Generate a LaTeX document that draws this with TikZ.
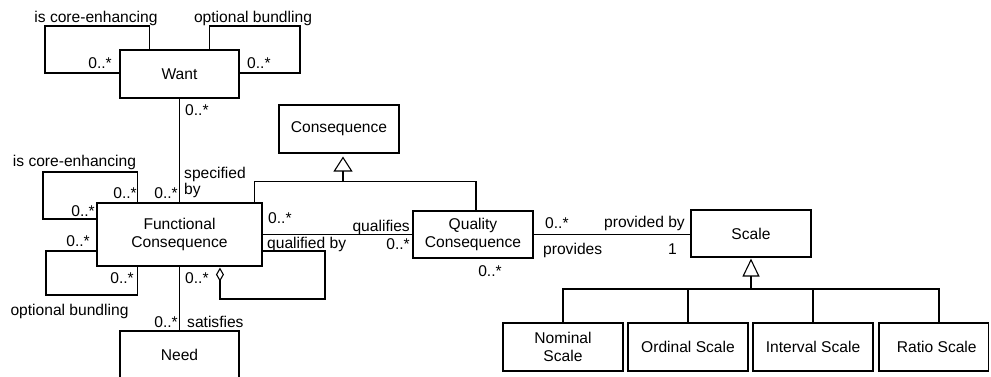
\documentclass[tikz,border=0pt]{standalone}
\usepackage{fontspec}
\setmainfont{Liberation Sans}
\usetikzlibrary{arrows.meta,calc}
\begin{document}
\begin{tikzpicture}[x=1pt,y=-1pt,
  every node/.style={font=\fontsize{15.6}{18.8}\selectfont},
  cls/.style={draw, line width=1.1pt, inner sep=0pt, align=center,
              minimum width=120pt, minimum height=48pt},
  lbl/.style={inner sep=0pt, text height=11.2pt, text depth=0pt},
  conn/.style={line width=1.1pt},
  gentip/.style={-{Triangle[open,length=15pt,width=19pt]}},
  aggtip/.style={-{Diamond[open,length=14pt,width=8pt]}},
]
\useasboundingbox (0,0) rectangle (991,376);

% classes
\node[cls, minimum width=119pt] (want) at (179.5,74) {Want};
\node[cls] (cons) at (339,129) {Consequence};
\node[cls, minimum width=165pt, minimum height=63pt] (fc) at (179.5,234.5) {Functional\\Consequence};
\node[cls, minimum height=47pt] (qc) at (473,234.5) {Quality\\Consequence};
\node[cls, minimum height=47pt] (scale) at (751,233.5) {Scale};
\node[cls, minimum width=119pt] (need) at (179.5,355) {Need};
\node[cls] (nominal) at (563,347) {Nominal\\Scale};
\node[cls] (ordinal) at (688,347) {Ordinal Scale};
\node[cls] (interval) at (813,347) {Interval Scale};
\node[cls, minimum width=109.5pt] (ratio) at (933.75,347) {\hspace*{6pt}Ratio Scale};

% self associations of Want
\draw[conn] ($(want.north west)+(30,0)$) |- (45,26) |- ($(want.west)+(0,-1)$);
\draw[conn] ($(want.north east)+(-30,0)$) |- (300,26) |- ($(want.east)+(0,-1)$);
% Want -- Functional Consequence
\draw[conn] (want.south) -- (fc.north);
% self associations of Functional Consequence
\draw[conn] ($(fc.north west)+(41,0)$) |- (43,172) |- ($(fc.west)+(0,-15.5)$);
\draw[conn] ($(fc.west)+(0,16.5)$) -| (46,295) -| ($(fc.south west)+(41,0)$);
\draw[conn, aggtip] ($(fc.east)+(0,16.5)$) -| (325,299) -| ($(fc.south west)+(123.5,1)$);
% other associations
\draw[conn] (fc.south) -- (need.north);
\draw[conn] (fc.east) -- (qc.west);
\draw[conn] (qc.east) -- (qc.east -| scale.west);

% generalization of Consequence
\coordinate (cjoin) at (343,182);
\draw[conn] ($(fc.north west)+(158,0)$) |- ($(qc.north)+(3,-29)$) -- ($(qc.north)+(3,0)$);
\draw[conn, gentip] (cjoin) -- ($(cons.south)+(4,3)$);

% generalization of Scale
\coordinate (sjoin) at (751,289);
\draw[conn] (nominal.north) |- ($(ratio.north |- sjoin)+(5.25,0)$) -- ($(ratio.north)+(5.25,0)$);
\draw[conn] (ordinal.north) -- (ordinal.north |- sjoin);
\draw[conn] (interval.north) -- (interval.north |- sjoin);
\draw[conn, -{Triangle[open,length=18pt,width=17pt]}] (sjoin) -- ($(scale.south)+(0,1)$);
\draw[line width=2pt] (sjoin) -- ($(scale.south)+(0,19)$);

% role names and multiplicities
\node[lbl] (wcore) at (96,16.5) {is core-enhancing};
\node[lbl] (wbund) at (253,16.5) {optional bundling};
\node[lbl, anchor=east] (wm1) at (112,63) {0..*};
\node[lbl, anchor=west] (wm2) at (247,63) {0..*};
\node[lbl, anchor=west] (wm3) at (185,110) {0..*};
\node[lbl, anchor=east] (fm0) at (178,192.5) {0..*};
\node[anchor=north west, align=left, inner sep=0pt, font=\fontsize{15.6}{16}\selectfont] (spec) at (184,167) {specified\\by};
\node[lbl] (fcore) at (74.5,160.5) {is core-enhancing};
\node[lbl, anchor=east] (fm1) at (137,192.5) {0..*};
\node[lbl, anchor=east] (fm2) at (95,210.5) {0..*};
\node[lbl, anchor=east] (fm3) at (90,240.5) {0..*};
\node[lbl, anchor=east] (fm4) at (134,278) {0..*};
\node[lbl] (fbund) at (69.5,309.5) {optional bundling};
\node[lbl, anchor=west] (fm5) at (185,278) {0..*};
\node[lbl, anchor=east] (nm1) at (178,321.5) {0..*};
\node[lbl, anchor=west] (sat) at (187,321.5) {satisfies};
\node[lbl, anchor=west] (fm6) at (268,218) {0..*};
\node[lbl, anchor=east] (qual) at (410,226) {qualifies};
\node[lbl, anchor=west] (qualby) at (267,242.5) {qualified by};
\node[lbl, anchor=east] (qm1) at (410,244) {0..*};
\node[lbl] (qm2) at (490,271) {0..*};
\node[lbl, anchor=west] (qm3) at (545,223) {0..*};
\node[lbl, anchor=east] (provby) at (685,222) {provided by};
\node[lbl, anchor=west] (prov) at (543,248.5) {provides};
\node[lbl, anchor=east] (sm1) at (677,248.5) {1};
\end{tikzpicture}
\end{document}
